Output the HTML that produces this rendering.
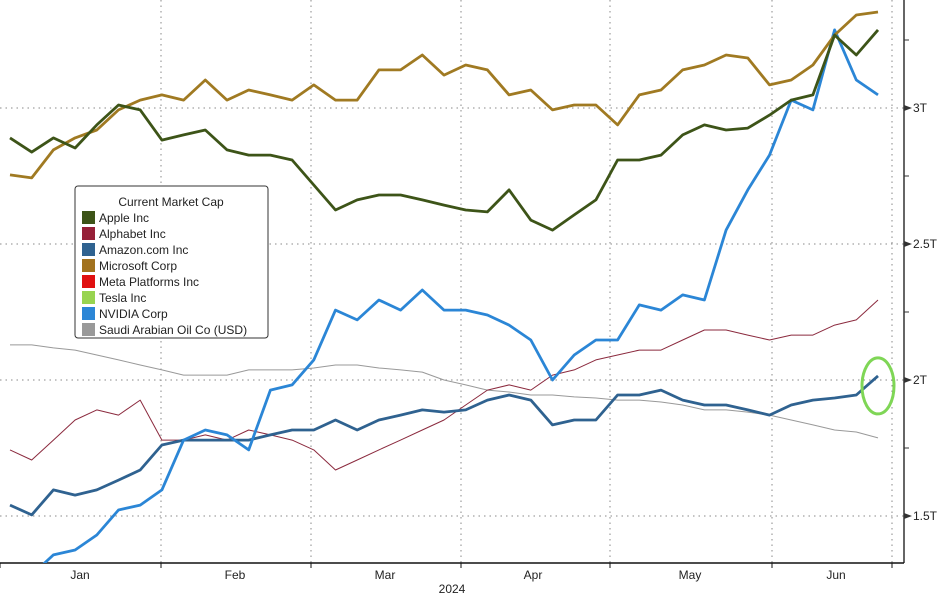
<!DOCTYPE html>
<html><head><meta charset="utf-8"><style>
body{margin:0;background:#fff;font-family:"Liberation Sans",sans-serif}
svg text{font-family:"Liberation Sans",sans-serif}
</style></head><body>
<svg id="c" width="942" height="596" xmlns="http://www.w3.org/2000/svg"></svg>
<script>
const yTicks=[3,2.5,2,1.5];
const yTickLabels=["3T","2.5T","2T","1.5T"];
const months=["Jan","Feb","Mar","Apr","May","Jun"];
const seriesNames=["Apple Inc","Alphabet Inc","Amazon.com Inc","Microsoft Corp","Meta Platforms Inc","Tesla Inc","NVIDIA Corp","Saudi Arabian Oil Co (USD)"];
const apple=[2.890,2.838,2.890,2.853,2.938,3.011,2.993,2.882,2.901,2.919,2.846,2.827,2.827,2.809,2.717,2.625,2.662,2.680,2.680,2.662,2.643,2.625,2.618,2.699,2.588,2.551,2.607,2.662,2.809,2.809,2.827,2.901,2.938,2.919,2.926,2.974,3.029,3.048,3.268,3.195,3.287];
const microsoft=[2.754,2.743,2.846,2.890,2.919,2.993,3.029,3.048,3.029,3.103,3.029,3.066,3.048,3.029,3.085,3.029,3.029,3.140,3.140,3.195,3.121,3.158,3.140,3.048,3.066,2.993,3.011,3.011,2.938,3.048,3.066,3.140,3.158,3.195,3.184,3.085,3.103,3.158,3.268,3.342,3.353];
const nvidia=[1.228,1.283,1.357,1.375,1.430,1.522,1.540,1.596,1.779,1.816,1.798,1.743,1.963,1.982,2.074,2.257,2.221,2.294,2.257,2.331,2.257,2.257,2.239,2.202,2.147,2.000,2.092,2.147,2.147,2.276,2.257,2.313,2.294,2.551,2.699,2.827,3.029,2.993,3.287,3.103,3.048];
const amazon=[1.540,1.504,1.596,1.577,1.596,1.632,1.669,1.761,1.779,1.779,1.779,1.779,1.798,1.816,1.816,1.853,1.816,1.853,1.871,1.890,1.882,1.890,1.926,1.945,1.926,1.835,1.853,1.853,1.945,1.945,1.963,1.926,1.908,1.908,1.890,1.871,1.908,1.926,1.934,1.945,2.015];
const alphabet=[1.743,1.706,1.779,1.853,1.890,1.871,1.926,1.779,1.779,1.798,1.779,1.816,1.798,1.779,1.743,1.669,1.706,1.743,1.779,1.816,1.853,1.908,1.963,1.982,1.963,2.018,2.037,2.074,2.092,2.110,2.110,2.147,2.184,2.184,2.165,2.147,2.165,2.165,2.202,2.221,2.294];
const saudi=[2.129,2.129,2.118,2.110,2.092,2.074,2.055,2.037,2.018,2.018,2.018,2.037,2.037,2.037,2.044,2.055,2.055,2.044,2.037,2.029,2.000,1.982,1.963,1.956,1.945,1.945,1.938,1.934,1.926,1.926,1.919,1.908,1.890,1.890,1.882,1.871,1.853,1.835,1.816,1.809,1.787];

const svg=document.getElementById('c');const NS="http://www.w3.org/2000/svg";
function mk(t,a,p){const e=document.createElementNS(NS,t);for(const k in a)e.setAttribute(k,a[k]);(p||svg).appendChild(e);return e;}
const yS=v=>108+(3-v)*272;
const xS=i=>10+i*(868/40);
const plotBottom=563, axisX=904;
const vGrid=[161,311,461,610,772,892];
vGrid.forEach(x=>{const l=mk('line',{x1:x,x2:x,y1:0,y2:plotBottom,stroke:'#888','stroke-dasharray':'1.5,4','stroke-width':1});
});
yTicks.forEach((v,i)=>{const y=yS(v);
const l=mk('line',{x1:0,x2:axisX,y1:y,y2:y,stroke:'#888','stroke-dasharray':'1.5,4','stroke-width':1});

const t=mk('path',{d:`M${axisX} ${y-3}L${axisX+8} ${y}L${axisX} ${y+3}Z`,fill:'#333'});

const tx=mk('text',{x:axisX+9,y:y+4,'font-size':12,fill:'#222'});tx.textContent=yTickLabels[i];
});
[3.25,2.75,2.25,1.75,1.25].forEach(v=>{const y=yS(v);if(y>0&&y<plotBottom){const l=mk('line',{x1:axisX,x2:axisX+5,y1:y,y2:y,stroke:'#333'});
}});
const ax=mk('line',{x1:axisX,x2:axisX,y1:0,y2:plotBottom,stroke:'#333','stroke-width':1.5});

const bx=mk('line',{x1:0,x2:axisX,y1:plotBottom,y2:plotBottom,stroke:'#111','stroke-width':1.5});

[0,161,311,461,610,772,892].forEach(x=>{const l=mk('line',{x1:x,x2:x,y1:plotBottom,y2:plotBottom+5,stroke:'#111'});
});
const mx=[80,235,385,533,690,836];
months.forEach((m,i)=>{const t=mk('text',{x:mx[i],y:579,'font-size':12,'text-anchor':'middle',fill:'#222'});t.textContent=m;
});
const yr=mk('text',{x:452,y:593,'font-size':12,'text-anchor':'middle',fill:'#222'});yr.textContent='2024';

const clip=mk('clipPath',{id:'pc'});mk('rect',{x:0,y:0,width:axisX,height:plotBottom},clip);
const g=mk('g',{'clip-path':'url(#pc)'});
function line(arr,col,w,name){const d=arr.map((v,i)=>(i?'L':'M')+xS(i).toFixed(1)+' '+yS(v).toFixed(1)).join('');
const p=mk('path',{d:d,fill:'none',stroke:col,'stroke-width':w,'stroke-linejoin':'round'},g);
}
line(saudi,'#999',1,'saudi-aramco-line');
line(alphabet,'#8b2a3e',1,'alphabet-line');
line(amazon,'#2f6290',2.8,'amazon-line');
line(nvidia,'#2b86d6',2.8,'nvidia-line');
line(microsoft,'#a07a22',2.8,'microsoft-line');
line(apple,'#3d5418',2.8,'apple-line');
const ell=mk('ellipse',{cx:xS(40),cy:yS(amazon[40])+10,rx:16,ry:28,fill:'none',stroke:'#7fd656','stroke-width':3});

const lg=mk('g',{});
mk('rect',{x:75,y:186,width:193,height:152,rx:3,fill:'#fff',stroke:'#333'},lg);
const lt=mk('text',{x:171,y:206,'font-size':12,'text-anchor':'middle',fill:'#222'},lg);lt.textContent='Current Market Cap';

const cols=['#3d5418','#962038','#2f6290','#a2721e','#e01010','#98d450','#2b86d6','#999'];
seriesNames.forEach((n,i)=>{const y=218+i*16.0;
const r=mk('rect',{x:82,y:y-7,width:13,height:13,fill:cols[i]},lg);

const t=mk('text',{x:99,y:y+4,'font-size':12,fill:'#222'},lg);t.textContent=n;
});
</script>
</body></html>
